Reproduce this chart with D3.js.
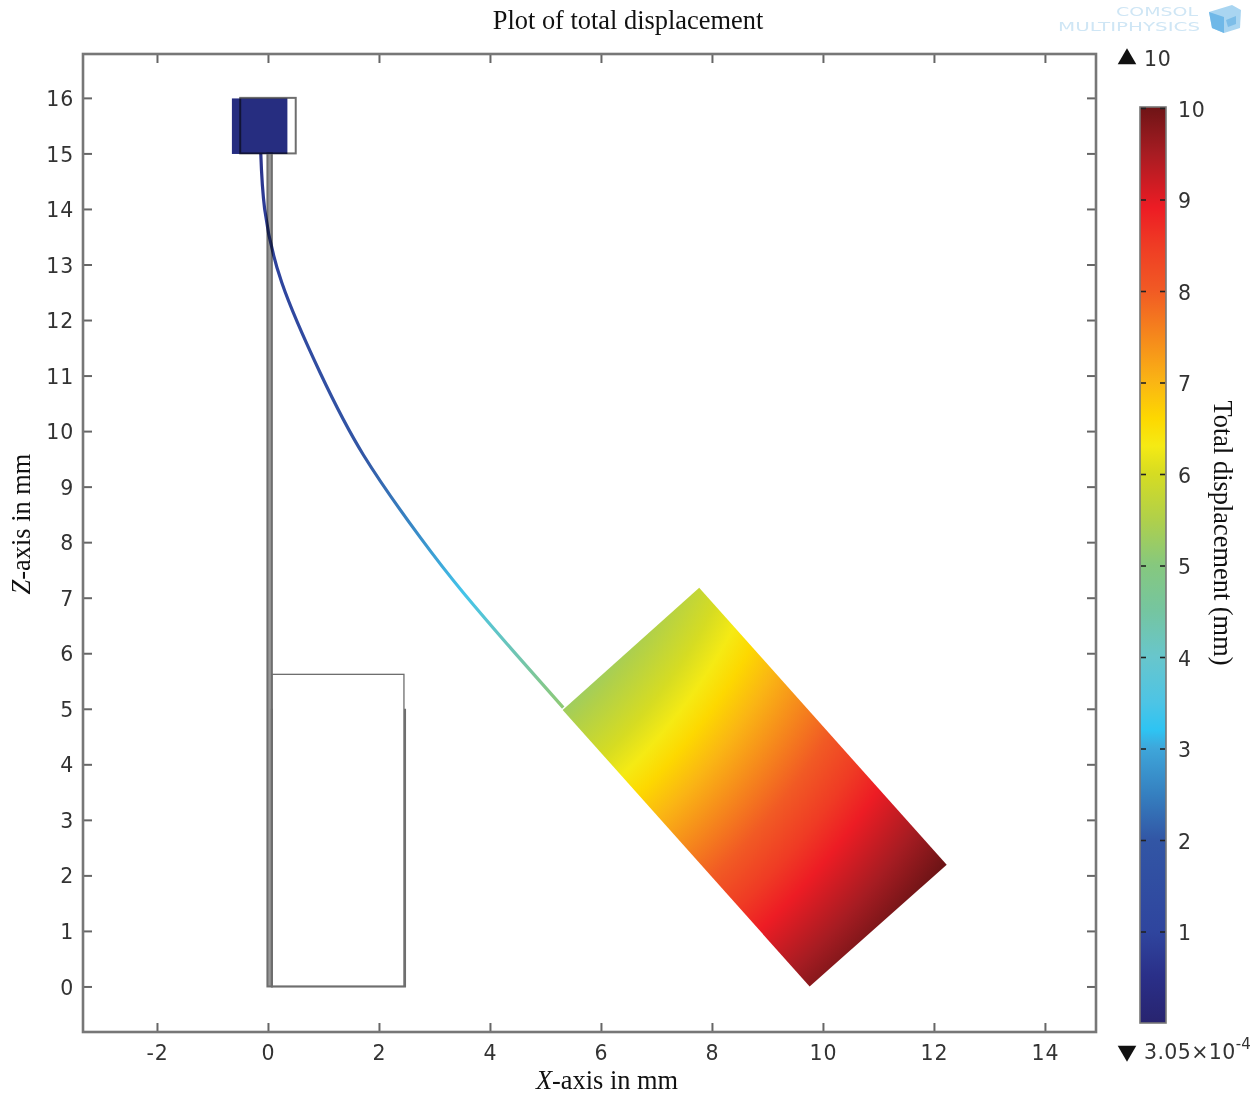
<!DOCTYPE html>
<html>
<head>
<meta charset="utf-8">
<script src="https://cdn.jsdelivr.net/npm/d3@7"></script>
<style>
  body { margin: 0; background: #fff; }
  svg { filter: blur(0.4px); }
  .axis text, .bar-label { font-family: "DejaVu Sans", sans-serif; font-size: 20.5px; letter-spacing: 0.8px; fill: #333; }
  .axis line { stroke: #666; stroke-width: 2; }
  .serif { font-family: "Liberation Serif", serif; fill: #111; }
  .logo-text { font-family: "DejaVu Sans", sans-serif; font-size: 13px; fill: #cfe6f5; }
</style>
</head>
<body>
<div id="chart"></div>
<script>
const TOTAL_W = 1258;
const TOTAL_H = 1095;
const plot = { left: 83, right: 1096, top: 54, bottom: 1032 };
const bar = { left: 1140, right: 1166, top: 107, bottom: 1023 };

const xTicks = [-2, 0, 2, 4, 6, 8, 10, 12, 14];
const zTicks = [0, 1, 2, 3, 4, 5, 6, 7, 8, 9, 10, 11, 12, 13, 14, 15, 16];
const barTicks = [1, 2, 3, 4, 5, 6, 7, 8, 9, 10];

// colour table
const colorValues = [0, 0.5, 1, 2, 2.5, 3, 3.2, 3.5, 4, 4.5, 5, 5.5, 6, 6.3, 6.6, 7, 8, 8.5, 8.9, 9.5, 10];
const colorHex = ['#28246f', '#2a2f88', '#2f459e', '#3256a5', '#3580c0', '#3ea6da', '#2ec4f3', '#4dc4e5',
  '#68c6cc', '#75c5a0', '#86c87e', '#b0d04a', '#d6dc22', '#f5ea14', '#fdd800', '#fab514',
  '#f15a24', '#ef3b24', '#ed1c24', '#a61c22', '#6e1416'];

// deformed beam centre line, mm, with displacement at each point
const beamX = [-0.13, -0.06, 0.25, 0.94, 1.72, 2.74, 3.52, 4.48, 5.32];
const beamZ = [15.01, 14.0, 12.67, 11.05, 9.57, 8.09, 7.09, 5.97, 5.02];
const beamValue = [0.6, 0.8, 1, 1.5, 2, 2.7, 3.4, 4.3, 5.1];

// deformed mass
const massX = [5.31, 7.77, 12.23, 9.76];
const massZ = [4.98, 7.18, 2.19, 0];
const massCentre = [-1.0, 11.46];
const massValues = [5.3, 6.4, 8.9, 10];
const massRadius = [9.04, 10.8, 14.37, 16.1];

// top block
const blockX = [-0.65, 0.35];
const blockZ = [14.99, 15.99];
const blockOutlineX = [-0.5, 0.5];
const blockOutlineZ = [15, 16];

// undeformed outlines
const restBeamX = [-0.01, 0.07];
const restBeamZ = [0, 15];
const restMassX = [0.07, 0.07, 2.47, 2.47];
const restMassZ = [5, 0, 0, 5];
const upperFrameX = [0.07, 2.45];
const upperFrameZ = [0, 5.62];

const xScale = d3.scaleLinear().domain([-3.333, 14.92]).range([plot.left, plot.right]);
const zScale = d3.scaleLinear().domain([-0.82, 16.79]).range([plot.bottom, plot.top]);
const barScale = d3.scaleLinear().domain([0, 10]).range([1023.5, 108.5]);
const colorScale = d3.scaleLinear().domain(colorValues).range(colorHex);
const radiusScale = d3.scaleLinear().domain(massValues).range(massRadius);

const svg = d3.select('#chart')
  .append('svg')
  .attr('width', TOTAL_W)
  .attr('height', TOTAL_H);
const defs = svg.append('defs');

// Legend gradient
const barGrad = defs.append('linearGradient')
  .attr('id', 'bar-grad')
  .attr('x1', 0).attr('x2', 0).attr('y1', 1).attr('y2', 0);
barGrad.selectAll('stop')
  .data(colorValues)
  .enter()
  .append('stop')
  .attr('offset', d => d / 10)
  .attr('stop-color', d => colorScale(d));

// Beam gradient, offset = projection on the chord
const bx0 = xScale(beamX[0]), by0 = zScale(beamZ[0]);
const bx1 = xScale(beamX[beamX.length - 1]), by1 = zScale(beamZ[beamZ.length - 1]);
const chord = (bx1 - bx0) ** 2 + (by1 - by0) ** 2;
const beamGrad = defs.append('linearGradient')
  .attr('id', 'beam-grad')
  .attr('gradientUnits', 'userSpaceOnUse')
  .attr('x1', bx0).attr('y1', by0).attr('x2', bx1).attr('y2', by1);
beamGrad.selectAll('stop')
  .data(beamValue)
  .enter()
  .append('stop')
  .attr('offset', (d, i) => ((xScale(beamX[i]) - bx0) * (bx1 - bx0) + (zScale(beamZ[i]) - by0) * (by1 - by0)) / chord)
  .attr('stop-color', d => colorScale(d));

// Mass gradient: the mass is rotated so the bands are arcs round one point
const maxRadius = massRadius[massRadius.length - 1];
const massGrad = defs.append('radialGradient')
  .attr('id', 'mass-grad')
  .attr('gradientUnits', 'userSpaceOnUse')
  .attr('cx', xScale(massCentre[0]))
  .attr('cy', zScale(massCentre[1]))
  .attr('r', xScale(massCentre[0] + maxRadius) - xScale(massCentre[0]));
massGrad.selectAll('stop')
  .data([5.3].concat(colorValues.filter(v => v > 5.3)))
  .enter()
  .append('stop')
  .attr('offset', d => radiusScale(d) / maxRadius)
  .attr('stop-color', d => colorScale(d));

const isolate = svg.append('g').style('isolation', 'isolate');

// Mass
isolate.append('polygon')
  .attr('points', massX.map((d, i) => [xScale(d), zScale(massZ[i])].join(',')).join(' '))
  .attr('fill', 'url(#mass-grad)');

// Beam
isolate.append('path')
  .datum(beamX.map((d, i) => [d, beamZ[i]]))
  .attr('d', d3.line().x(d => xScale(d[0])).y(d => zScale(d[1])).curve(d3.curveNatural))
  .attr('fill', 'none')
  .attr('stroke', 'url(#beam-grad)')
  .attr('stroke-width', 3.2);

// Top block
isolate.append('rect')
  .attr('x', xScale(blockX[0]))
  .attr('y', zScale(blockZ[1]))
  .attr('width', xScale(blockX[1]) - xScale(blockX[0]))
  .attr('height', zScale(blockZ[0]) - zScale(blockZ[1]))
  .attr('fill', '#262d80');

// Undeformed outlines on top, multiplied so crossings go dark
const rest = isolate.append('g')
  .attr('fill', 'none')
  .attr('stroke', '#6e6e6e')
  .attr('stroke-width', 2)
  .style('mix-blend-mode', 'multiply');

rest.append('rect')
  .attr('x', xScale(blockOutlineX[0]))
  .attr('y', zScale(blockOutlineZ[1]))
  .attr('width', xScale(blockOutlineX[1]) - xScale(blockOutlineX[0]))
  .attr('height', zScale(blockOutlineZ[0]) - zScale(blockOutlineZ[1]));

rest.append('rect')
  .attr('x', xScale(restBeamX[0]))
  .attr('y', zScale(restBeamZ[1]))
  .attr('width', xScale(restBeamX[1]) - xScale(restBeamX[0]))
  .attr('height', zScale(restBeamZ[0]) - zScale(restBeamZ[1]))
  .attr('fill', '#999');

rest.append('path')
  .datum(restMassX.map((d, i) => [d, restMassZ[i]]))
  .attr('d', d3.line().x(d => xScale(d[0])).y(d => zScale(d[1])));

rest.append('rect')
  .attr('x', xScale(upperFrameX[0]))
  .attr('y', zScale(upperFrameZ[1]))
  .attr('width', xScale(upperFrameX[1]) - xScale(upperFrameX[0]))
  .attr('height', zScale(upperFrameZ[0]) - zScale(upperFrameZ[1]))
  .attr('stroke-width', 1.3);

// Axes, ticks point inward on all four sides
function addAxis(axis, tx, ty, labels) {
  const g = svg.append('g')
    .attr('class', 'axis')
    .attr('transform', `translate(${tx},${ty})`)
    .call(axis);
  g.select('.domain').remove();
  if (!labels) g.selectAll('text').remove();
  return g;
}
addAxis(d3.axisBottom(xScale).tickValues(xTicks).tickFormat(d => String(d)).tickSize(-9).tickPadding(13), 0, plot.bottom, true);
addAxis(d3.axisTop(xScale).tickValues(xTicks).tickSize(-9), 0, plot.top, false);
addAxis(d3.axisLeft(zScale).tickValues(zTicks).tickFormat(d => String(d)).tickSize(-9).tickPadding(9), plot.left, 0, true)
  .selectAll('text').attr('dy', '0.37em');
addAxis(d3.axisRight(zScale).tickValues(zTicks).tickSize(-9), plot.right, 0, false);

svg.append('rect')
  .attr('x', plot.left)
  .attr('y', plot.top)
  .attr('width', plot.right - plot.left)
  .attr('height', plot.bottom - plot.top)
  .attr('fill', 'none')
  .attr('stroke', '#777')
  .attr('stroke-width', 2.6);

// Legend
svg.append('rect')
  .attr('x', bar.left)
  .attr('y', bar.top)
  .attr('width', bar.right - bar.left)
  .attr('height', bar.bottom - bar.top)
  .attr('fill', 'url(#bar-grad)')
  .attr('stroke', '#777')
  .attr('stroke-width', 1.6);

svg.selectAll('.bar-tick-l')
  .data(barTicks)
  .enter()
  .append('line')
  .attr('x1', bar.left + 1)
  .attr('x2', bar.left + 6)
  .attr('y1', d => barScale(d))
  .attr('y2', d => barScale(d))
  .attr('stroke', '#222')
  .attr('stroke-width', 1.6);

svg.selectAll('.bar-tick-r')
  .data(barTicks)
  .enter()
  .append('line')
  .attr('x1', bar.right - 6)
  .attr('x2', bar.right - 1)
  .attr('y1', d => barScale(d))
  .attr('y2', d => barScale(d))
  .attr('stroke', '#222')
  .attr('stroke-width', 1.6);

svg.selectAll('.bar-label')
  .data(barTicks)
  .enter()
  .append('text')
  .attr('class', 'bar-label')
  .attr('x', bar.right + 12)
  .attr('y', d => barScale(d) + 8)
  .text(d => d);

// Max / min markers
svg.append('path')
  .attr('d', d3.symbol(d3.symbolTriangle, 150))
  .attr('transform', 'translate(1127,59)')
  .attr('fill', '#111');
svg.append('text')
  .attr('class', 'bar-label')
  .attr('x', 1144)
  .attr('y', 66)
  .text('10');

svg.append('path')
  .attr('d', d3.symbol(d3.symbolTriangle, 150))
  .attr('transform', 'translate(1127,1051) rotate(180)')
  .attr('fill', '#111');
const minLabel = svg.append('text')
  .attr('class', 'bar-label')
  .attr('x', 1144)
  .attr('y', 1059);
minLabel.append('tspan').style('letter-spacing', '0.4px').text('3.05×10');
minLabel.append('tspan').attr('dy', -10).style('font-size', '15px').style('letter-spacing', '0').text('-4');

// Titles
svg.append('text')
  .attr('class', 'serif')
  .attr('x', 628)
  .attr('y', 29)
  .attr('text-anchor', 'middle')
  .style('font-size', '26.4px')
  .text('Plot of total displacement');

const xLabel = svg.append('text')
  .attr('class', 'serif')
  .attr('x', 607)
  .attr('y', 1089)
  .attr('text-anchor', 'middle')
  .style('font-size', '26.4px');
xLabel.append('tspan').style('font-style', 'italic').text('X');
xLabel.append('tspan').text('-axis in mm');

const zLabel = svg.append('text')
  .attr('class', 'serif')
  .attr('transform', 'translate(30,524) rotate(-90)')
  .attr('text-anchor', 'middle')
  .style('font-size', '26.4px');
zLabel.append('tspan').style('font-style', 'italic').text('Z');
zLabel.append('tspan').text('-axis in mm');

svg.append('text')
  .attr('class', 'serif')
  .attr('transform', 'translate(1214,533) rotate(90)')
  .attr('text-anchor', 'middle')
  .style('font-size', '26.4px')
  .text('Total displacement (mm)');

// Logo
svg.append('text')
  .attr('class', 'logo-text')
  .attr('x', 1116).attr('y', 16)
  .attr('textLength', 82)
  .attr('lengthAdjust', 'spacingAndGlyphs')
  .text('COMSOL');
svg.append('text')
  .attr('class', 'logo-text')
  .attr('x', 1058).attr('y', 31)
  .attr('textLength', 142)
  .attr('lengthAdjust', 'spacingAndGlyphs')
  .text('MULTIPHYSICS');

const logo = svg.append('g');
logo.append('polygon').attr('points', '1209,12 1232,5 1241,10 1240,28 1224,33 1212,28').attr('fill', '#a9d5f1');
logo.append('polygon').attr('points', '1209,12 1224,17 1224,33 1212,28').attr('fill', '#6fb8e8');
logo.append('polygon').attr('points', '1226,20 1236,16 1236,24 1228,27').attr('fill', '#7cbde8');
</script>
</body>
</html>
